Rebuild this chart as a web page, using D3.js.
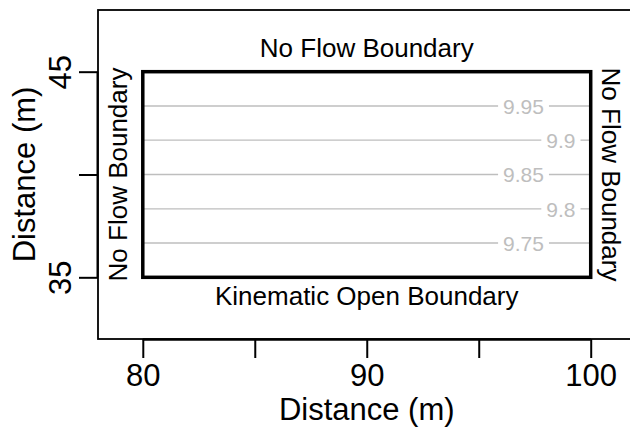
<!DOCTYPE html>
<html>
<head>
<meta charset="utf-8">
<script src="https://cdn.jsdelivr.net/npm/d3@7"></script>
<style>
  html, body { margin: 0; padding: 0; background: #fff; }
  svg { display: block; }
  text { font-family: "Liberation Sans", Arial, sans-serif; }
</style>
</head>
<body>
<svg id="chart" width="630" height="428"></svg>
<script>
// ---- data ----
const domainX = [80, 100];
const domainY = [35, 45];
const contourLevels = [9.75, 9.8, 9.85, 9.9, 9.95];
const contourY = [36.67, 38.33, 40, 41.67, 43.33];
const xTicks = [80, 85, 90, 95, 100];
const xTickLabels = ["80", "", "90", "", "100"];
const yTicks = [35, 40, 45];
const yTickLabels = ["35", "", "45"];
const boundaryLabels = ["No Flow Boundary", "Kinematic Open Boundary", "No Flow Boundary", "No Flow Boundary"];
const xTitle = "Distance (m)";
const yTitle = "Distance (m)";

// ---- layout ----
const svg = d3.select("#chart");
const x = d3.scaleLinear().domain([78, 102]).range([98, 635.5]);
const y = d3.scaleLinear().domain([32, 48]).range([339, 10]);
const labelX = [97, 98.67]; // alternating label positions along contour lines
const gray = "#bebebe";

// plot box
svg.append("rect")
  .attr("x", x(78)).attr("y", y(48))
  .attr("width", x(102) - x(78)).attr("height", y(32) - y(48))
  .attr("fill", "none").attr("stroke", "#000").attr("stroke-width", 1.8);

// contour lines with label gaps
const cg = svg.append("g");
contourLevels.forEach((lev, i) => {
  const yy = y(contourY[i]);
  const lx = x(labelX[i % 2]);
  const txt = cg.append("text")
    .attr("x", lx).attr("y", yy)
    .attr("dy", "0.38em")
    .attr("text-anchor", "middle")
    .attr("font-size", 21)
    .attr("fill", gray)
    .text(String(lev));
  const w = txt.node().getComputedTextLength();
  const gap = 5;
  cg.append("line")
    .attr("x1", x(domainX[0])).attr("x2", lx - w / 2 - gap)
    .attr("y1", yy).attr("y2", yy)
    .attr("stroke", gray).attr("stroke-width", 1.4);
  cg.append("line")
    .attr("x1", lx + w / 2 + gap).attr("x2", x(domainX[1]))
    .attr("y1", yy).attr("y2", yy)
    .attr("stroke", gray).attr("stroke-width", 1.4);
});

// domain rectangle
svg.append("rect")
  .attr("x", x(domainX[0])).attr("y", y(domainY[1]))
  .attr("width", x(domainX[1]) - x(domainX[0]))
  .attr("height", y(domainY[0]) - y(domainY[1]))
  .attr("fill", "none").attr("stroke", "#000").attr("stroke-width", 3.5);

// x axis
const xAxis = d3.axisBottom(x).tickValues(xTicks)
  .tickFormat((d, i) => xTickLabels[i]).tickSize(19).tickPadding(6);
const gx = svg.append("g").attr("transform", `translate(0,${y(32)})`).call(xAxis);
gx.select(".domain").attr("d", `M${x(80)},0.5H${x(100)}`).attr("stroke-width", 2.5);
gx.selectAll(".tick line").attr("stroke-width", 2);
gx.selectAll(".tick text")
  .attr("font-family", "Liberation Sans, Arial, sans-serif")
  .attr("font-size", 31).attr("fill", "#000");

// y axis
const yAxis = d3.axisLeft(y).tickValues(yTicks)
  .tickFormat((d, i) => yTickLabels[i]).tickSize(19).tickPadding(6);
const gy = svg.append("g").attr("transform", `translate(${x(78)},0)`).call(yAxis);
gy.select(".domain").attr("d", `M-0.5,${y(35)}V${y(45)}`).attr("stroke-width", 2);
gy.selectAll(".tick line").attr("stroke-width", 2);
gy.selectAll(".tick text")
  .attr("font-family", "Liberation Sans, Arial, sans-serif")
  .attr("font-size", 31).attr("fill", "#000")
  .attr("x", null).attr("dy", null)
  .attr("text-anchor", "middle")
  .attr("transform", "translate(-27,0) rotate(-90)");

// boundary labels
const midX = x((domainX[0] + domainX[1]) / 2);
const midY = y((domainY[0] + domainY[1]) / 2);
svg.append("text").attr("x", midX).attr("y", 56.5)
  .attr("text-anchor", "middle").attr("font-size", 26).text(boundaryLabels[0]);
svg.append("text").attr("x", midX).attr("y", 305)
  .attr("text-anchor", "middle").attr("font-size", 26).text(boundaryLabels[1]);
svg.append("text")
  .attr("transform", `translate(127,${midY}) rotate(-90)`)
  .attr("text-anchor", "middle").attr("font-size", 26).text(boundaryLabels[2]);
svg.append("text")
  .attr("transform", `translate(602,${midY}) rotate(90)`)
  .attr("text-anchor", "middle").attr("font-size", 26).text(boundaryLabels[3]);

// axis titles
svg.append("text").attr("x", midX).attr("y", 420)
  .attr("text-anchor", "middle").attr("font-size", 31).text(xTitle);
svg.append("text")
  .attr("transform", `translate(35,${(y(32) + y(48)) / 2}) rotate(-90)`)
  .attr("text-anchor", "middle").attr("font-size", 31).text(yTitle);
</script>
</body>
</html>
